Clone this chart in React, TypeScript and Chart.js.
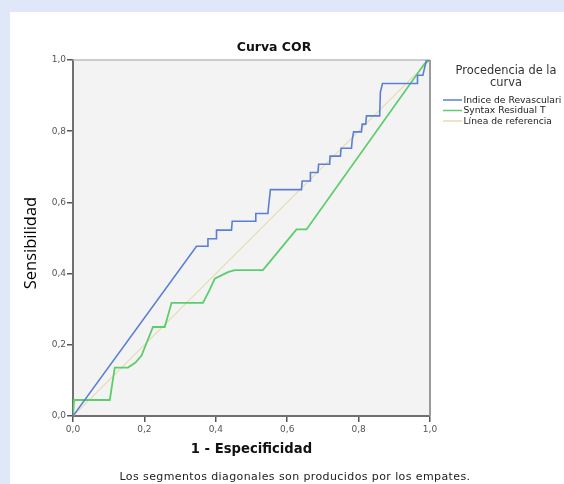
import React, { useEffect, useRef } from "react";
import { Chart, registerables } from "chart.js";

Chart.register(...registerables);

const chartTitle = "Curva COR";
const xAxisTitle = "1 - Especificidad";
const yAxisTitle = "Sensibilidad";
const footnote = "Los segmentos diagonales son producidos por los empates.";
const legendTitle = ["Procedencia de la", "curva"];
const seriesNames = ["Indice de Revasculari", "Syntax Residual T", "Línea de referencia"];
const seriesColors = ["#5b7fd2", "#5ccd6c", "#e6dcb2"];
const tickLabels = ["0,0", "0,2", "0,4", "0,6", "0,8", "1,0"];

const indiceX = [0, 0.346, 0.376, 0.378, 0.402, 0.402, 0.444, 0.446, 0.512, 0.512, 0.546, 0.548, 0.553, 0.64, 0.642, 0.665, 0.665, 0.686, 0.688, 0.719, 0.72, 0.749, 0.751, 0.78, 0.782, 0.786, 0.808, 0.81, 0.82, 0.822, 0.859, 0.861, 0.867, 0.964, 0.965, 0.98, 0.99, 1];
const indiceY = [0, 0.477, 0.477, 0.498, 0.498, 0.522, 0.522, 0.547, 0.547, 0.569, 0.569, 0.59, 0.636, 0.636, 0.66, 0.66, 0.684, 0.684, 0.707, 0.707, 0.73, 0.73, 0.752, 0.752, 0.775, 0.798, 0.798, 0.82, 0.82, 0.843, 0.843, 0.91, 0.934, 0.934, 0.957, 0.957, 1.0, 1];

const syntaxX = [0, 0.003, 0.103, 0.117, 0.154, 0.175, 0.192, 0.224, 0.257, 0.276, 0.364, 0.383, 0.397, 0.434, 0.453, 0.532, 0.626, 0.654, 0.985, 1];
const syntaxY = [0, 0.045, 0.045, 0.136, 0.136, 0.15, 0.17, 0.25, 0.25, 0.318, 0.318, 0.355, 0.386, 0.404, 0.41, 0.41, 0.524, 0.524, 0.99, 1];

const refX = [0, 1];
const refY = [0, 1];

const toPoints = (xs: number[], ys: number[]) => xs.map((x, i) => ({ x, y: ys[i] }));

const FONT = "'DejaVu Sans', sans-serif";

const decor = {
  id: "decor",
  beforeDraw(chart: any) {
    const { ctx, chartArea: a } = chart;
    ctx.save();
    ctx.fillStyle = "#f3f3f3";
    ctx.fillRect(a.left, a.top, a.right - a.left, a.bottom - a.top);
    ctx.restore();
  },
  beforeDatasetsDraw(chart: any) {
    const { ctx, chartArea: a } = chart;
    ctx.save();
    ctx.strokeStyle = "#bdbdbd";
    ctx.lineWidth = 1.5;
    ctx.beginPath();
    ctx.moveTo(a.left, a.top);
    ctx.lineTo(a.right, a.top);
    ctx.stroke();
    ctx.strokeStyle = "#9a9a9a";
    ctx.lineWidth = 2;
    ctx.beginPath();
    ctx.moveTo(a.right, a.top);
    ctx.lineTo(a.right, a.bottom);
    ctx.stroke();
    ctx.restore();
  },
  afterDraw(chart: any) {
    const { ctx, chartArea: a } = chart;
    ctx.save();
    ctx.textBaseline = "middle";
    // title
    ctx.fillStyle = "#111";
    ctx.textAlign = "center";
    ctx.font = `bold 12.5px ${FONT}`;
    ctx.fillText(chartTitle, 274, 48);
    // x title
    ctx.font = `bold 13.2px ${FONT}`;
    ctx.fillText(xAxisTitle, (a.left + a.right) / 2, 450);
    // footnote
    ctx.font = `11px ${FONT}`;
    ctx.fillStyle = "#222";
    (ctx as any).letterSpacing = "0.4px";
    ctx.fillText(footnote, 295, 477);
    (ctx as any).letterSpacing = "0px";
    // y title
    ctx.save();
    ctx.translate(31, 243);
    ctx.rotate(-Math.PI / 2);
    ctx.font = `16.5px 'Open Sans', sans-serif`;
    ctx.fillStyle = "#000";
    ctx.fillText(yAxisTitle, 0, 0);
    ctx.restore();
    // legend
    ctx.fillStyle = "#333";
    ctx.font = `11.4px ${FONT}`;
    ctx.fillText(legendTitle[0], 506, 71);
    ctx.fillText(legendTitle[1], 506, 83);
    ctx.textAlign = "left";
    ctx.font = `9.2px ${FONT}`;
    const ys = [100, 110.5, 121];
    seriesNames.forEach((name, i) => {
      ctx.strokeStyle = seriesColors[i];
      ctx.lineWidth = 1.5;
      ctx.beginPath();
      ctx.moveTo(443, ys[i]);
      ctx.lineTo(462, ys[i]);
      ctx.stroke();
      ctx.fillStyle = "#222";
      ctx.fillText(name, 463.5, ys[i] + 0.5);
    });
    ctx.restore();
  },
};

export default function App() {
  const ref = useRef<HTMLCanvasElement | null>(null);
  useEffect(() => {
    if (!ref.current) return;
    const chart = new Chart(ref.current, {
      type: "line",
      data: {
        datasets: [
          {
            label: seriesNames[0],
            data: toPoints(indiceX, indiceY),
            borderColor: seriesColors[0],
            borderWidth: 1.6,
            pointRadius: 0,
            tension: 0,
            fill: false,
            order: 1,
          },
          {
            label: seriesNames[1],
            data: toPoints(syntaxX, syntaxY),
            borderColor: seriesColors[1],
            borderWidth: 1.8,
            pointRadius: 0,
            tension: 0,
            fill: false,
            order: 2,
          },
          {
            label: seriesNames[2],
            data: toPoints(refX, refY),
            borderColor: seriesColors[2],
            borderWidth: 1.2,
            pointRadius: 0,
            tension: 0,
            fill: false,
            order: 3,
          },
        ],
      },
      options: {
        responsive: false,
        animation: false,
        events: [],
        layout: { padding: { left: 0, top: 60, right: 134, bottom: 0 } },
        plugins: {
          legend: { display: false },
          title: { display: false },
          tooltip: { enabled: false },
        },
        scales: {
          x: {
            type: "linear",
            min: 0,
            max: 1,
            afterFit: (s: any) => {
              s.height = 68;
            },
            afterBuildTicks: (s: any) => {
              s.ticks = tickLabels.map((_, i) => ({ value: i * 0.2 }));
            },
            ticks: {
              callback: (_v: any, i: number) => tickLabels[i],
              font: { size: 9, family: FONT },
              color: "#555",
              padding: 2,
              maxRotation: 0,
            },
            grid: { drawOnChartArea: false, drawTicks: true, tickLength: 6, color: "#555", lineWidth: 1.5 },
            border: { display: true, color: "#707070", width: 2 },
          },
          y: {
            type: "linear",
            min: 0,
            max: 1,
            afterFit: (s: any) => {
              s.width = 73;
            },
            afterBuildTicks: (s: any) => {
              s.ticks = tickLabels.map((_, i) => ({ value: i * 0.2 }));
            },
            ticks: {
              callback: (_v: any, i: number) => tickLabels[i],
              font: { size: 9, family: FONT },
              color: "#555",
              padding: 1,
            },
            grid: { drawOnChartArea: false, drawTicks: true, tickLength: 6, color: "#555", lineWidth: 1.5 },
            border: { display: true, color: "#707070", width: 2 },
          },
        },
      },
      plugins: [decor],
    } as any);
    return () => chart.destroy();
  }, []);

  return (
    <div style={{ position: "absolute", left: 0, top: 0, width: 564, height: 484, background: "#dfe7f8", overflow: "hidden" }}>
      <div style={{ position: "absolute", left: 10, top: 12, width: 554, height: 472, background: "#ffffff" }} />
      <canvas ref={ref} width={564} height={484} style={{ position: "absolute", left: 0, top: 0, width: 564, height: 484, display: "block" }} />
    </div>
  );
}
